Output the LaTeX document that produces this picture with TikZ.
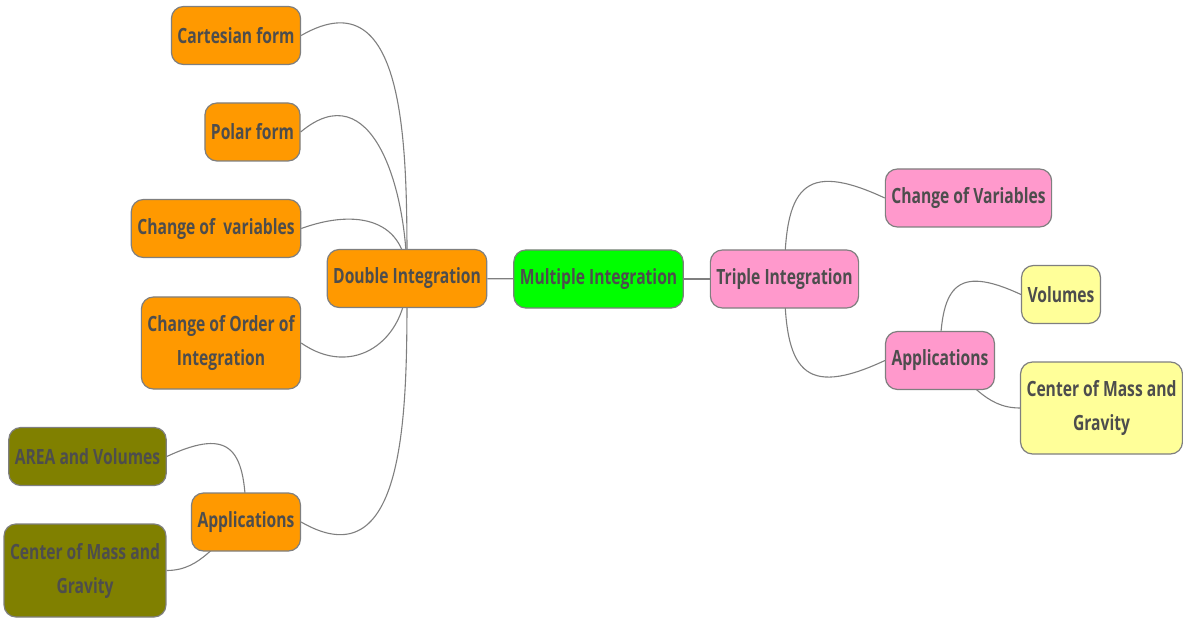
\documentclass[tikz,border=0pt]{standalone}
\usepackage{fontspec}
\setmainfont{Open Sans}[FakeStretch=0.745]
\usepackage{xcolor}
\usetikzlibrary{backgrounds}

\definecolor{mmorange}{HTML}{FF9900}
\definecolor{mmgreen}{HTML}{00FF00}
\definecolor{mmpink}{HTML}{FF99CC}
\definecolor{mmyellow}{HTML}{FFFF99}
\definecolor{mmolive}{HTML}{808000}
\definecolor{mmline}{HTML}{7F7F7F}
\definecolor{mmtext}{HTML}{4D4D4D}

\begin{document}
\begin{tikzpicture}[x=1pt, y=1pt,
  every node/.style={draw=mmline, line width=1.2pt, rounded corners=12pt, text=mmtext,
    font=\bfseries\fontsize{21}{34}\selectfont, align=center,
    minimum height=58pt, inner xsep=6pt},
  orng/.style={fill=mmorange}, grn/.style={fill=mmgreen}, pnk/.style={fill=mmpink},
  ylw/.style={fill=mmyellow}, olv/.style={fill=mmolive},
  link/.style={draw=mmline, line width=1.1pt}]
\useasboundingbox (0,0) rectangle (1183,-620);
\node[grn] (mult) at (598.5,-279) {Multiple Integration};
\node[orng] (dbl) at (407,-278.5) {Double Integration};
\node[pnk] (trip) at (784.5,-279) {Triple Integration};
% double integration branch
\node[orng] (cart) at (236,-35.5) {Cartesian form};
\node[orng] (polar) at (252.5,-132) {Polar form};
\node[orng] (chvar) at (216,-228.5) {Change of\ \ variables};
\node[orng, minimum height=92pt] (order) at (221,-343) {Change of Order of\\Integration};
\node[orng] (appl) at (246,-522) {Applications};
\node[olv] (area) at (87.5,-456.5) {AREA and Volumes};
\node[olv, minimum height=93pt] (massl) at (85,-570.5) {Center of Mass and\\Gravity};
% triple integration branch
\node[pnk] (cov) at (968.5,-198) {Change of Variables};
\node[pnk] (appr) at (940,-360.5) {Applications};
\node[ylw] (vol) at (1061,-294.5) {Volumes};
\node[ylw, minimum height=92pt] (massr) at (1101.5,-408) {Center of Mass and\\Gravity};
\begin{scope}[on background layer]
\draw[link] (dbl) -- (mult);
\draw[link] (mult) -- (trip);
\draw[link] (dbl.center) to[out=90, in=30, looseness=1.2] (cart.east);
\draw[link] (dbl.center) to[out=90, in=40, looseness=1.3] (polar.east);
\draw[link] (dbl.center) to[out=90, in=20, looseness=1.3] (chvar.east);
\draw[link] (dbl.center) to[out=-90, in=-35, looseness=1.3] (order.east);
\draw[link] (dbl.center) to[out=-90, in=-30, looseness=1.2] (appl.east);
\draw[link] (appl.center) to[out=90, in=25, looseness=1.8] (area.east);
\draw[link] (appl.center) to[out=210, in=0] (massl.east);
\draw[link] (trip.center) to[out=90, in=155, looseness=1.8] (cov.west);
\draw[link] (trip.center) to[out=-90, in=205, looseness=1.8] (appr.west);
\draw[link] (appr.center) to[out=90, in=155, looseness=1.8] (vol.west);
\draw[link] (appr.center) to[out=-30, in=180] (massr.west);
\end{scope}
\end{tikzpicture}
\end{document}
